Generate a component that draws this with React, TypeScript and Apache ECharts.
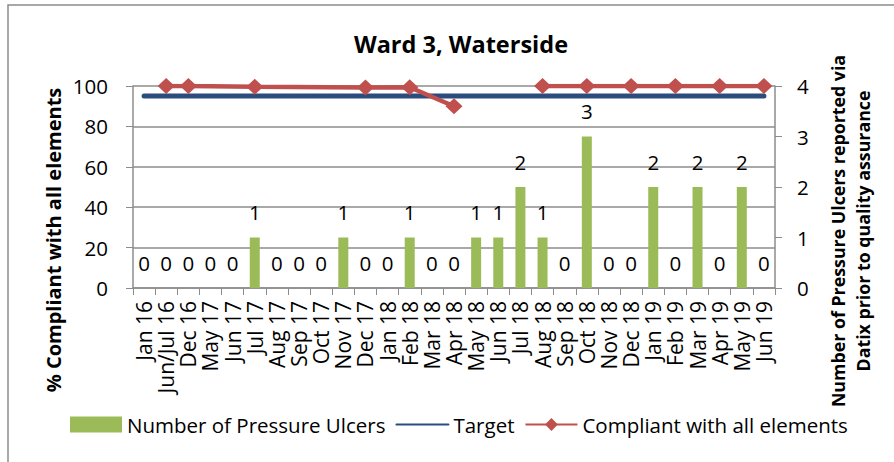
import React, { useEffect, useRef } from "react";
import * as echarts from "echarts";

const categories = [
  "Jan 16", "Jun/Jul 16", "Dec 16", "May 17", "Jun 17", "Jul 17", "Aug 17", "Sep 17",
  "Oct 17", "Nov 17", "Dec 17", "Jan 18", "Feb 18", "Mar 18", "Apr 18", "May 18",
  "Jun 18", "Jul 18", "Aug 18", "Sep 18", "Oct 18", "Nov 18", "Dec 18", "Jan 19",
  "Feb 19", "Mar 19", "Apr 19", "May 19", "Jun 19",
];
const pressureUlcers = [0, 0, 0, 0, 0, 1, 0, 0, 0, 1, 0, 0, 1, 0, 0, 1, 1, 2, 1, 0, 3, 0, 0, 2, 0, 2, 0, 2, 0];
const target = categories.map(() => 95);
const compliantPart1 = [null, 100, 100, null, null, 99.6, null, null, null, null, 99.3, null, 99.4, null, 90,
  null, null, null, null, null, null, null, null, null, null, null, null, null, null];
const compliantPart2 = [null, null, null, null, null, null, null, null, null, null, null, null, null, null, null,
  null, null, null, 100, null, 100, null, 100, null, 100, null, 100, null, 100];
const leftTicks = { min: 0, max: 100, interval: 20 };
const rightTicks = { min: 0, max: 4, interval: 1 };

const FONT = "'Open Sans', sans-serif";
const RED = "#C0504D";
const BLUE = "#2B4C7C";
const GREEN = "#9BBB59";
const AXIS = "#8C8C8C";

export default function App() {
  const ref = useRef<HTMLDivElement>(null);
  useEffect(() => {
    if (!ref.current) return;
    const chart = echarts.init(ref.current, null, { renderer: "svg" });
    const redLine = {
      type: "line",
      yAxisIndex: 0,
      connectNulls: true,
      symbol: "diamond",
      symbolSize: [17, 16],
      lineStyle: { color: RED, width: 4.5 },
      itemStyle: { color: RED },
      z: 4,
    };
    chart.setOption({
      animation: false,
      textStyle: { fontFamily: FONT, color: "#000" },
      title: {
        text: "Ward 3, Waterside",
        left: 456,
        top: 27,
        textAlign: "center",
        textStyle: { fontFamily: FONT, fontSize: 23.5, fontWeight: "bold", color: "#000" },
      },
      grid: { left: 133, right: 119, top: 86, bottom: 174 },
      legend: {
        bottom: 22,
        left: 65,
        itemWidth: 52,
        itemHeight: 16,
        itemGap: 10,
        textStyle: { fontFamily: FONT, fontSize: 20.5, color: "#000" },
        data: [
          { name: "Number of Pressure Ulcers", icon: "rect" },
          { name: "Target", itemStyle: { opacity: 0 } },
          { name: "Compliant with all elements" },
        ],
      },
      xAxis: {
        type: "category",
        data: categories,
        boundaryGap: true,
        axisLine: { lineStyle: { color: AXIS, width: 1.5 } },
        axisTick: { show: true, length: 7, alignWithLabel: false, lineStyle: { color: AXIS } },
        axisLabel: { rotate: 90, fontSize: 21, color: "#000", fontFamily: FONT, interval: 0, margin: 13 },
      },
      yAxis: [
        {
          type: "value",
          ...leftTicks,
          axisLine: { show: true, lineStyle: { color: AXIS, width: 1.5 } },
          axisTick: { show: true, length: 7, lineStyle: { color: AXIS } },
          splitLine: { show: true, lineStyle: { color: AXIS, width: 1.5 } },
          axisLabel: { fontSize: 20.5, color: "#000", fontFamily: FONT, margin: 25 },
        },
        {
          type: "value",
          ...rightTicks,
          position: "right",
          axisLine: { show: true, lineStyle: { color: AXIS, width: 1.5 } },
          axisTick: { show: true, length: 7, lineStyle: { color: AXIS } },
          splitLine: { show: false },
          axisLabel: { fontSize: 20.5, color: "#000", fontFamily: FONT, margin: 22 },
        },
      ],
      series: [
        {
          name: "Number of Pressure Ulcers",
          type: "bar",
          yAxisIndex: 1,
          data: pressureUlcers,
          barWidth: 10,
          itemStyle: { color: GREEN },
          label: { show: true, position: "top", distance: 15, fontSize: 20.5, color: "#000", fontFamily: FONT },
          z: 2,
        },
        {
          name: "Target",
          type: "line",
          yAxisIndex: 0,
          data: target,
          symbol: "none",
          lineStyle: { color: BLUE, width: 5, cap: "round" },
          itemStyle: { color: BLUE },
          z: 3,
        },
        { ...redLine, name: "Compliant with all elements", data: compliantPart1 },
        { ...redLine, name: "Compliant with all elements", data: compliantPart2 },
      ],
      graphic: [
        {
          type: "rect",
          shape: { x: 8, y: 5, width: 900, height: 470 },
          style: { fill: "none", stroke: AXIS, lineWidth: 1.5 },
          silent: true,
        },
        {
          type: "text",
          x: 53,
          y: 240,
          rotation: Math.PI / 2,
          style: {
            text: "% Compliant with all elements",
            font: `bold 20px ${FONT}`,
            fill: "#000",
            align: "center",
            verticalAlign: "middle",
          },
        },
        {
          type: "text",
          x: 850,
          y: 231,
          rotation: Math.PI / 2,
          style: {
            text: "Number of Pressure Ulcers reported via\nDatix prior to quality assurance",
            font: `bold 17.8px ${FONT}`,
            fill: "#000",
            align: "center",
            verticalAlign: "middle",
            lineHeight: 25,
          },
        },
      ],
    });
    return () => chart.dispose();
  }, []);
  return <div ref={ref} style={{ width: 894, height: 462, position: "absolute", left: 0, top: 0 }} />;
}
